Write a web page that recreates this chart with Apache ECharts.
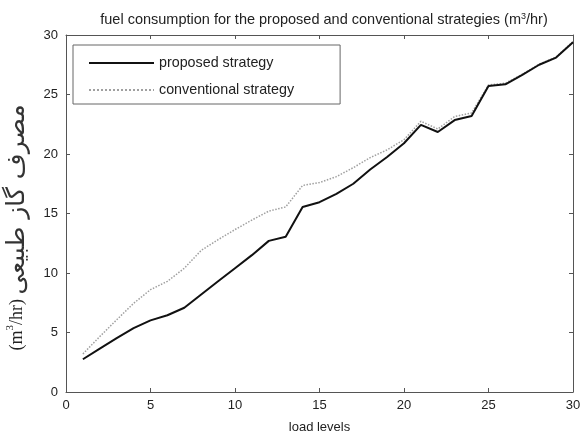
<!DOCTYPE html>
<html>
<head>
<meta charset="utf-8">
<script src="https://cdn.jsdelivr.net/npm/echarts@6/dist/echarts.min.js"></script>
<style>html,body{margin:0;padding:0;background:#fff;}#c{width:583px;height:435px;}</style>
</head>
<body>
<div id="c"></div>
<script>
var loadLevels = [1,2,3,4,5,6,7,8,9,10,11,12,13,14,15,16,17,18,19,20,21,22,23,24,25,26,27,28,29,30];
var proposed = [2.75,3.65,4.52,5.36,6.02,6.45,7.08,8.2,9.3,10.4,11.5,12.7,13.05,15.55,15.95,16.65,17.5,18.7,19.75,20.9,22.45,21.85,22.85,23.2,25.72,25.86,26.65,27.5,28.1,29.4];
var conventional = [3.2,4.66,6.07,7.45,8.6,9.3,10.4,11.9,12.8,13.65,14.45,15.2,15.55,17.35,17.6,18.1,18.85,19.7,20.35,21.2,22.75,22.1,23.15,23.45,25.8,25.95,26.7,27.55,28.15,29.45];
var xTicks = [0,5,10,15,20,25,30];
var yTicks = [0,5,10,15,20,25,30];
var seriesNames = ['proposed strategy','conventional strategy'];
var titleMain = 'fuel consumption for the proposed and conventional strategies (m';
var titleUnitEnd = '/hr)';
var xName = 'load levels';
var yNameUnitStart = '(m';
var yNameUnitEnd = '/hr) ';
var yNamePersian = '\u0645\u0635\u0631\u0641 \u06AF\u0627\u0632 \u0637\u0628\u06CC\u0639\u06CC';

function pairs(xs, ys){ return xs.map(function(x,i){ return [x, ys[i]]; }); }

var sans = 'Liberation Sans, Arial, sans-serif';
var axisColor = '#555';
var chart = echarts.init(document.getElementById('c'), null, {renderer:'canvas'});
var baseX = {
  type:'value', min:xTicks[0], max:xTicks[xTicks.length-1], interval:5,
  axisLine:{show:true, onZero:false, lineStyle:{color:axisColor, width:1}},
  axisTick:{show:true, inside:true, length:4, lineStyle:{color:axisColor}},
  splitLine:{show:false}
};
var baseY = {
  type:'value', min:yTicks[0], max:yTicks[yTicks.length-1], interval:5,
  axisLine:{show:true, onZero:false, lineStyle:{color:axisColor, width:1}},
  axisTick:{show:true, inside:true, length:4, lineStyle:{color:axisColor}},
  splitLine:{show:false}
};
chart.setOption({
  animation:false,
  backgroundColor:'#fff',
  title:{
    text:'{a|' + titleMain + '}{s|3}{a|' + titleUnitEnd + '}', left:319, top:7, textAlign:'center',
    textStyle:{
      fontFamily:sans, fontSize:14.5, fontWeight:'normal', color:'#222',
      rich:{
        a:{fontFamily:sans, fontSize:14.5, color:'#222'},
        s:{fontFamily:sans, fontSize:9, color:'#222', verticalAlign:'top', padding:[0,0,6,0]}
      }
    }
  },
  grid:{left:66, right:10, top:35, bottom:43, containLabel:false, outerBoundsMode:'none'},
  legend:{
    orient:'vertical', left:73, top:45,
    data:seriesNames,
    itemWidth:65, itemHeight:14, itemGap:13,
    padding:[11,46,7,15],
    borderColor:'#666', borderWidth:1, backgroundColor:'#fff',
    itemStyle:{opacity:0},
    textStyle:{fontFamily:sans, fontSize:14.3, color:'#222'}
  },
  xAxis:[
    Object.assign({}, baseX, {
      position:'bottom', name:xName, nameLocation:'middle', nameGap:29,
      nameTextStyle:{fontFamily:sans, fontSize:13, color:'#222'},
      axisLabel:{show:true, margin:7, fontFamily:sans, fontSize:13, color:'#222'}
    }),
    Object.assign({}, baseX, {position:'top', axisLabel:{show:false}})
  ],
  yAxis:[
    Object.assign({}, baseY, {
      position:'left',
      name:'{a|' + yNameUnitStart + '}{s|3}{a|' + yNameUnitEnd + '}{p|' + yNamePersian + '}',
      nameLocation:'middle', nameGap:36, nameRotate:90,
      nameTextStyle:{
        fontFamily:'Liberation Serif, serif', fontSize:18, color:'#222',
        padding:[0,28,0,0],
        rich:{
          a:{fontFamily:'Liberation Serif, serif', fontSize:18, color:'#222'},
          s:{fontFamily:'Liberation Serif, serif', fontSize:11, color:'#222', verticalAlign:'top', padding:[0,0,8,0]},
          p:{fontFamily:'DejaVu Sans, sans-serif', fontSize:25, color:'#333'}
        }
      },
      axisLabel:{show:true, margin:8, fontFamily:sans, fontSize:13, color:'#222'}
    }),
    Object.assign({}, baseY, {position:'right', axisLabel:{show:false}})
  ],
  series:[
    {
      name:seriesNames[0], type:'line', data:pairs(loadLevels, proposed),
      symbol:'none', smooth:false,
      lineStyle:{color:'#111', width:2},
      itemStyle:{color:'#111'}, z:3
    },
    {
      name:seriesNames[1], type:'line', data:pairs(loadLevels, conventional),
      symbol:'none', smooth:false,
      lineStyle:{color:'#a0a0a0', width:1.5, type:'dotted'},
      itemStyle:{color:'#a0a0a0'}, z:2
    }
  ]
});
</script>
</body>
</html>
